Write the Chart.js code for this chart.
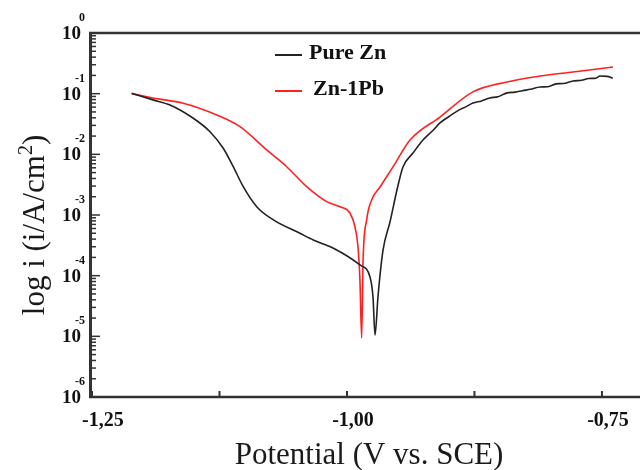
<!DOCTYPE html>
<html>
<head>
<meta charset="utf-8">
<script src="https://cdn.jsdelivr.net/npm/chart.js@4.4.1/dist/chart.umd.min.js"></script>
<style>
  html, body { margin: 0; padding: 0; background: #fff; }
  #wrap { width: 640px; height: 470px; }
</style>
</head>
<body>
<div id="wrap"><canvas id="tafelChart" width="640" height="470"></canvas></div>
<script>
// axis ticks
var potentialTicks = [-1.25, -1.00, -0.75];
var potentialTickLabels = ['-1,25', '-1,00', '-0,75'];
var potentialMinorTicks = [-1.125, -0.875];
var decadeExponents = [0, -1, -2, -3, -4, -5, -6];

// Pure Zn (V vs SCE, A/cm2)
var pureZnE = [-1.2111, -1.1902, -1.1735, -1.1507, -1.1343, -1.1213, -1.1115, -1.1017, -1.0885, -1.0722,
  -1.0461, -1.0330, -1.0137, -0.9873, -0.9775, -0.9745, -0.9725, -0.9696, -0.9647, -0.9578,
  -0.9510, -0.9451, -0.9353, -0.9255, -0.9160, -0.9088, -0.9000, -0.8900, -0.8840, -0.8765,
  -0.8680, -0.8600, -0.8520, -0.8431, -0.8350, -0.8280, -0.8200, -0.8108, -0.8030, -0.7950,
  -0.7880, -0.7784, -0.7700, -0.7630, -0.7560, -0.7520, -0.7450, -0.7392];
var pureZnI = [1.01e-1, 7.9e-2, 6.5e-2, 3.93e-2, 2.36e-2, 1.26e-2, 6.25e-3, 2.93e-3, 1.37e-3, 8.3e-4,
  5.0e-4, 3.87e-4, 2.86e-4, 1.5e-4, 9.6e-5, 4.5e-5, 1.05e-5, 4.5e-5, 2.6e-4, 7.7e-4,
  2.58e-3, 6.2e-3, 1.05e-2, 1.72e-2, 2.45e-2, 3.29e-2, 4.2e-2, 5.4e-2, 6.0e-2, 7.0e-2,
  7.6e-2, 8.5e-2, 8.9e-2, 1.03e-1, 1.06e-1, 1.12e-1, 1.18e-1, 1.29e-1, 1.30e-1, 1.45e-1,
  1.47e-1, 1.62e-1, 1.66e-1, 1.78e-1, 1.80e-1, 1.95e-1, 1.93e-1, 1.81e-1];

// Zn-1Pb
var znPbE = [-1.2111, -1.1902, -1.1605, -1.1277, -1.1049, -1.0787, -1.0591, -1.0395, -1.0199, -1.0069,
  -0.9971, -0.9922, -0.9892, -0.9873, -0.9856, -0.9843, -0.9807, -0.9758, -0.9676, -0.9549,
  -0.9382, -0.9088, -0.8765, -0.8431, -0.8108, -0.7784, -0.7392];
var znPbI = [1.01e-1, 8.5e-2, 6.94e-2, 4.45e-2, 2.86e-2, 1.18e-2, 6.25e-3, 2.93e-3, 1.66e-3, 1.37e-3,
  1.08e-3, 6.4e-4, 3.0e-4, 8.5e-5, 9.4e-6, 1.62e-4, 8.3e-4, 1.77e-3, 2.9e-3, 6.2e-3,
  1.72e-2, 4.12e-2, 1.07e-1, 1.56e-1, 1.95e-1, 2.28e-1, 2.75e-1];

function toPoints(es, is) {
  return es.map(function (e, k) { return {x: e, y: is[k]}; });
}

var serif = '"Liberation Serif", "Times New Roman", serif';

// axes, tick labels, titles and legend drawn on top
var tafelAxes = {
  id: 'tafelAxes',
  afterDraw: function (chart) {
    var ctx = chart.ctx;
    var xs = chart.scales.x, ys = chart.scales.y;
    var a = chart.chartArea;
    ctx.save();
    ctx.strokeStyle = '#333';
    ctx.fillStyle = '#111';

    // frame
    ctx.lineWidth = 3;
    ctx.beginPath();
    ctx.moveTo(a.left - 1.5, a.top - 1);
    ctx.lineTo(a.left - 1.5, a.bottom + 1);
    ctx.stroke();
    ctx.lineWidth = 2.5;
    ctx.beginPath();
    ctx.moveTo(a.left - 3, a.top);
    ctx.lineTo(640, a.top);
    ctx.moveTo(a.left - 3, a.bottom);
    ctx.lineTo(640, a.bottom);
    ctx.stroke();

    // y ticks
    ctx.lineWidth = 1.5;
    decadeExponents.forEach(function (p) {
      var y = ys.getPixelForValue(Math.pow(10, p));
      ctx.beginPath();
      ctx.moveTo(a.left, y);
      ctx.lineTo(a.left + 8, y);
      ctx.stroke();
      if (p > -6) {
        for (var m = 2; m <= 9; m++) {
          var ym = ys.getPixelForValue(m * Math.pow(10, p - 1));
          ctx.beginPath();
          ctx.moveTo(a.left, ym);
          ctx.lineTo(a.left + 4, ym);
          ctx.stroke();
        }
      }
      ctx.font = 'bold 19px ' + serif;
      ctx.textAlign = 'right';
      ctx.textBaseline = 'middle';
      ctx.fillText('10', 81, y + 1);
      ctx.font = 'bold 12px ' + serif;
      ctx.fillText(p === 0 ? '0' : '-' + (-p), 85, y - 15);
    });

    // x ticks
    ctx.lineWidth = 2;
    potentialTicks.concat(potentialMinorTicks).forEach(function (v) {
      var x = xs.getPixelForValue(v);
      ctx.beginPath();
      ctx.moveTo(x, a.bottom);
      ctx.lineTo(x, a.bottom - 6);
      ctx.stroke();
    });
    ctx.font = 'bold 20px ' + serif;
    ctx.textBaseline = 'middle';
    potentialTicks.forEach(function (v, k) {
      var x = xs.getPixelForValue(v);
      if (k === 0) {
        ctx.textAlign = 'left';
        ctx.fillText(potentialTickLabels[k], x - 10, 421);
      } else {
        ctx.textAlign = 'center';
        ctx.fillText(potentialTickLabels[k], x + 6, 421);
      }
    });

    // axis titles
    ctx.fillStyle = '#1a1a1a';
    ctx.font = '31px ' + serif;
    ctx.textBaseline = 'alphabetic';
    ctx.textAlign = 'center';
    ctx.fillText('Potential (V vs. SCE)', 369, 464);

    ctx.save();
    ctx.translate(44, 225);
    ctx.rotate(-Math.PI / 2);
    var main = 'log i (i/A/cm', sup = '2', tail = ')';
    ctx.font = '31px ' + serif;
    var w1 = ctx.measureText(main).width, w3 = ctx.measureText(tail).width;
    ctx.font = '20px ' + serif;
    var w2 = ctx.measureText(sup).width;
    var x0 = -(w1 + w2 + w3) / 2;
    ctx.textAlign = 'left';
    ctx.font = '31px ' + serif;
    ctx.fillText(main, x0, 0);
    ctx.font = '20px ' + serif;
    ctx.fillText(sup, x0 + w1, -12);
    ctx.font = '31px ' + serif;
    ctx.fillText(tail, x0 + w1 + w2, 0);
    ctx.restore();

    // legend
    var legendRows = [{y: 53, textX: 309}, {y: 89, textX: 313}];
    chart.data.datasets.forEach(function (ds, k) {
      var r = legendRows[k];
      ctx.strokeStyle = ds.borderColor;
      ctx.lineWidth = 2;
      ctx.beginPath();
      ctx.moveTo(275, r.y + 2);
      ctx.lineTo(302, r.y + 2);
      ctx.stroke();
      ctx.fillStyle = '#111';
      ctx.font = 'bold 22px ' + serif;
      ctx.textAlign = 'left';
      ctx.textBaseline = 'middle';
      ctx.fillText(ds.label, r.textX, r.y);
    });
    ctx.restore();
  }
};

new Chart(document.getElementById('tafelChart'), {
  type: 'line',
  data: {
    datasets: [{
      label: 'Pure Zn',
      data: toPoints(pureZnE, pureZnI),
      borderColor: '#222222',
      borderWidth: 1.6,
      pointRadius: 0,
      fill: false,
      cubicInterpolationMode: 'monotone'
    }, {
      label: 'Zn-1Pb',
      data: toPoints(znPbE, znPbI),
      borderColor: '#ff2020',
      borderWidth: 1.6,
      pointRadius: 0,
      fill: false,
      cubicInterpolationMode: 'monotone'
    }]
  },
  options: {
    responsive: false,
    animation: false,
    layout: { padding: { left: 92, top: 33, right: 0, bottom: 73 } },
    plugins: { legend: { display: false }, tooltip: { enabled: false } },
    scales: {
      x: { type: 'linear', min: -1.25, max: -0.7127, display: false },
      y: { type: 'logarithmic', min: 1e-6, max: 1, display: false }
    }
  },
  plugins: [tafelAxes]
});
</script>
</body>
</html>
